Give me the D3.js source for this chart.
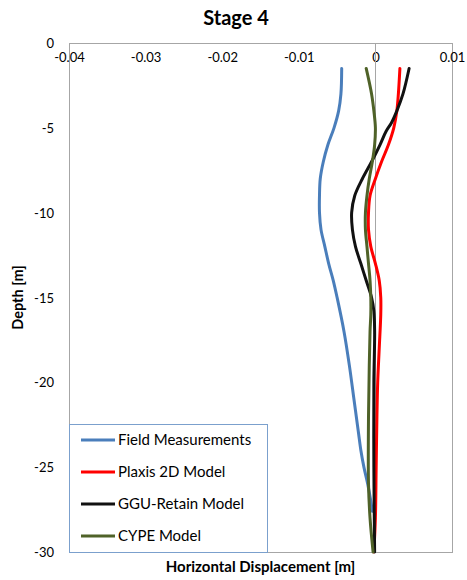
<!DOCTYPE html>
<html>
<head>
<meta charset="utf-8">
<script src="https://cdn.jsdelivr.net/npm/d3@7"></script>
<style>
  body { margin: 0; background: #fff; }
  text { font-family: Lato, "Liberation Sans", sans-serif; fill: #000; }
</style>
</head>
<body>
<div id="chart"></div>
<script>
// depth [m] and horizontal displacement [m] for each curve
var fieldDepth = [-1.5, -3, -4, -5, -6, -7, -8, -9, -10, -11, -12, -13, -14, -15, -17, -19, -21, -22, -23, -24, -25, -26, -27, -27.6];
var fieldDisp  = [-0.0044, -0.0045, -0.0048, -0.0054, -0.0062, -0.0068, -0.0072, -0.0073, -0.0073, -0.0071, -0.0066, -0.0061, -0.0055, -0.0050, -0.0041, -0.0034, -0.0028, -0.0025, -0.0022, -0.0019, -0.0015, -0.0010, -0.0006, -0.0004];

var plaxisDepth = [-1.5, -3, -4, -5, -6, -7, -8, -9, -10, -11, -12, -13, -14, -15, -16, -18, -20, -22, -25, -28, -30];
var plaxisDisp  = [0.0032, 0.0030, 0.0028, 0.0024, 0.0017, 0.0008, 0.0000, -0.0007, -0.0009, -0.0009, -0.0006, 0.0000, 0.0005, 0.0007, 0.0007, 0.0005, 0.0003, 0.0002, 0.0001, 0.0000, -0.0002];

var gguDepth = [-1.5, -3, -4, -4.7, -5.2, -6, -7, -8, -9, -10, -11, -12, -13, -14, -15, -15.8, -17, -20, -25, -30];
var gguDisp  = [0.0044, 0.0036, 0.0028, 0.0021, 0.0014, 0.0006, -0.0005, -0.0017, -0.0027, -0.0031, -0.0030, -0.0026, -0.0019, -0.0012, -0.0005, -0.0002, -0.0001, -0.0002, -0.0002, -0.0001];

var cypeDepth = [-1.5, -3, -4, -5, -6, -7, -8, -9, -10, -11, -12, -13, -14, -15, -16, -17, -19, -22, -26, -28, -30];
var cypeDisp  = [-0.0012, -0.0005, -0.0002, 0.0000, -0.0001, -0.0004, -0.0008, -0.0011, -0.0013, -0.0013, -0.0011, -0.0009, -0.0007, -0.0006, -0.0006, -0.0007, -0.0008, -0.0009, -0.0009, -0.0007, -0.0003];

var seriesNames = ["Field Measurements", "Plaxis 2D Model", "GGU-Retain Model", "CYPE Model"];
var seriesColors = ["#4a7ebb", "#ff0000", "#111111", "#4f6228"];

var xTicks = [-0.04, -0.03, -0.02, -0.01, 0, 0.01];
var yTicks = [0, -5, -10, -15, -20, -25, -30];

var series = [
  {depth: fieldDepth, disp: fieldDisp},
  {depth: plaxisDepth, disp: plaxisDisp},
  {depth: gguDepth, disp: gguDisp},
  {depth: cypeDepth, disp: cypeDisp}
].map(function(s, i) {
  return {
    name: seriesNames[i],
    color: seriesColors[i],
    points: s.depth.map(function(d, j) { return {depth: d, disp: s.disp[j]}; })
  };
});

var margin = {top: 43, right: 15, bottom: 28, left: 69},
    width = 467 - margin.left - margin.right,
    height = 580 - margin.top - margin.bottom;

var xScale = d3.scaleLinear()
  .domain([-0.04, 0.01])
  .range([0, width]);

var yScale = d3.scaleLinear()
  .domain([0, -30])
  .range([0, height]);

var svg = d3.select("#chart").append("svg")
    .attr("width", 467)
    .attr("height", 580);

var g = svg.append("g")
    .attr("transform", "translate(" + margin.left + "," + margin.top + ")");

// plot border
g.append("rect")
  .attr("width", width)
  .attr("height", height)
  .attr("fill", "none")
  .attr("stroke", "#a6a6a6")
  .attr("stroke-width", 1)
  .attr("shape-rendering", "crispEdges");

// x axis along depth 0, labels under the line
var xAxis = g.append("g")
  .attr("class", "axis x--axis")
  .call(d3.axisBottom(xScale)
    .tickValues(xTicks)
    .tickSize(0)
    .tickPadding(10)
    .tickFormat(function(d) { return d === 0 ? "0" : d3.format(".2f")(d).replace("−", "-"); }));

// y axis crosses at x = 0, labels kept at the left edge
var yAxis = g.append("g")
  .attr("class", "axis y--axis")
  .call(d3.axisLeft(yScale)
    .tickValues(yTicks)
    .tickSize(0)
    .tickPadding(0)
    .tickFormat(function(d) { return String(d); }));

yAxis.select(".domain").remove();
yAxis.selectAll("text")
  .attr("x", -15)
  .attr("dy", "0.35em");

g.append("line")
  .attr("x1", xScale(0)).attr("x2", xScale(0))
  .attr("y1", 0).attr("y2", height)
  .attr("stroke", "#a6a6a6")
  .attr("shape-rendering", "crispEdges");

g.selectAll(".axis .domain")
  .attr("stroke", "#a6a6a6")
  .attr("shape-rendering", "crispEdges");
g.selectAll(".axis text")
  .style("font-family", "Lato, sans-serif")
  .style("font-size", "13px")
  .attr("fill", "#000");

var line = d3.line()
  .x(function(d) { return xScale(d.disp); })
  .y(function(d) { return yScale(d.depth); })
  .curve(d3.curveCatmullRom.alpha(0.5));

g.selectAll(".series")
  .data(series)
  .enter()
  .append("path")
  .attr("class", "series")
  .attr("d", function(d) { return line(d.points); })
  .attr("fill", "none")
  .attr("stroke", function(d) { return d.color; })
  .attr("stroke-width", 3)
  .attr("stroke-linecap", "round");

// legend
var legend = g.append("g")
  .attr("transform", "translate(0," + (height - 128) + ")");

legend.append("rect")
  .attr("width", 198)
  .attr("height", 128)
  .attr("fill", "#fff")
  .attr("stroke", "#7ba0cd")
  .attr("stroke-width", 1)
  .attr("shape-rendering", "crispEdges");

var items = legend.selectAll(".item")
  .data(series)
  .enter()
  .append("g")
  .attr("class", "item")
  .attr("transform", function(d, i) { return "translate(0," + (16 + i * 32) + ")"; });

items.append("line")
  .attr("x1", 12).attr("x2", 46)
  .attr("stroke", function(d) { return d.color; })
  .attr("stroke-width", 3);

items.append("text")
  .attr("x", 49)
  .attr("dy", "0.35em")
  .style("font-size", "15px")
  .text(function(d) { return d.name; });

// titles
svg.append("text")
  .attr("x", 236)
  .attr("y", 25)
  .attr("text-anchor", "middle")
  .style("font-size", "20px")
  .style("font-weight", "bold")
  .text("Stage 4");

svg.append("text")
  .attr("transform", "translate(23," + (margin.top + height / 2) + ") rotate(-90)")
  .attr("text-anchor", "middle")
  .style("font-size", "14.5px")
  .style("font-weight", "bold")
  .text("Depth [m]");

svg.append("text")
  .attr("x", margin.left + width / 2)
  .attr("y", 572)
  .attr("text-anchor", "middle")
  .style("font-size", "15px")
  .style("font-weight", "bold")
  .text("Horizontal Displacement [m]");
</script>
</body>
</html>
